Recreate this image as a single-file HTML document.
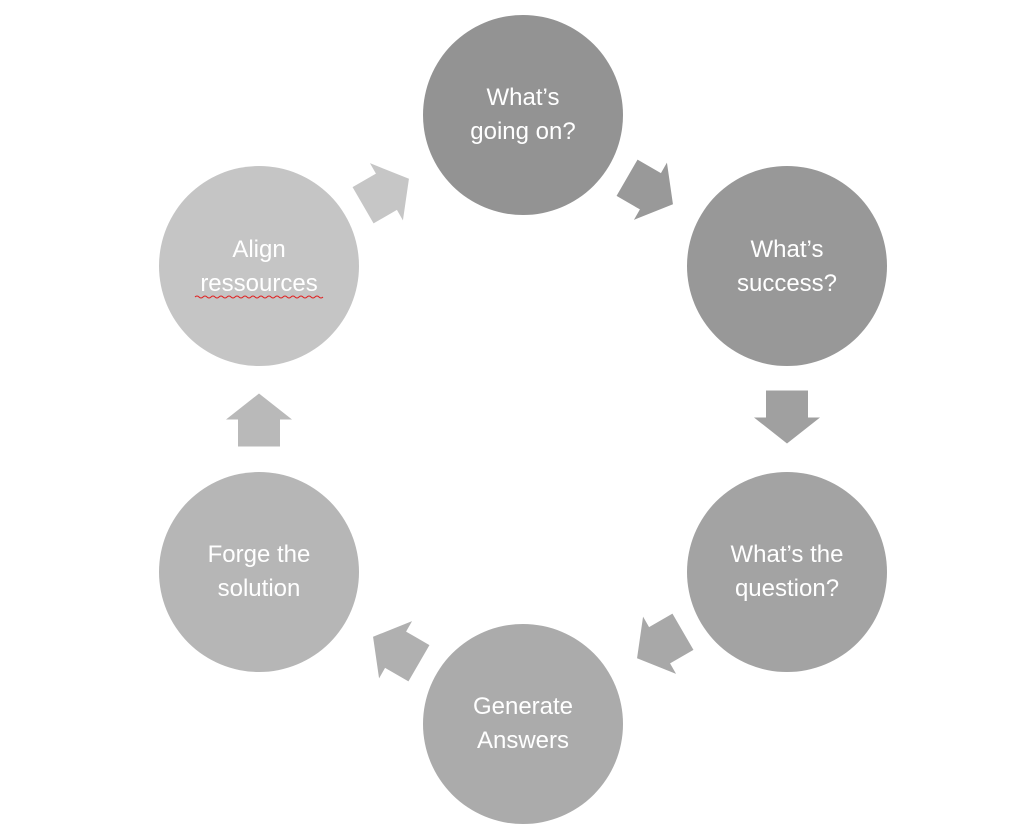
<!DOCTYPE html>
<html><head><meta charset="utf-8"><style>
html,body{margin:0;padding:0;background:#fff;}
svg{display:block}
text{font-family:"Liberation Sans",sans-serif;font-size:24px;fill:#fff;text-anchor:middle}
</style></head><body>
<svg width="1024" height="838" viewBox="0 0 1024 838" xmlns="http://www.w3.org/2000/svg">
<defs>
<polygon id="ar" points="-26.5,-21 0.5,-21 0.5,-33 26.5,0 0.5,33 0.5,21 -26.5,21"/>
</defs>
<circle cx="523" cy="115" r="100" fill="#939393"/>
<circle cx="787" cy="266" r="100" fill="#989898"/>
<circle cx="787" cy="572" r="100" fill="#a3a3a3"/>
<circle cx="523" cy="724" r="100" fill="#ababab"/>
<circle cx="259" cy="572" r="100" fill="#b6b6b6"/>
<circle cx="259" cy="266" r="100" fill="#c5c5c5"/>

<use href="#ar" fill="#999999" transform="translate(650,191) rotate(30)"/>
<use href="#ar" fill="#a0a0a0" transform="translate(787,417) rotate(90)"/>
<use href="#ar" fill="#a8a8a8" transform="translate(660,645) rotate(150)"/>
<use href="#ar" fill="#b0b0b0" transform="translate(396,650) rotate(210)"/>
<use href="#ar" fill="#b9b9b9" transform="translate(259,420) rotate(270)"/>
<use href="#ar" fill="#c6c6c6" transform="translate(386,192) rotate(330)"/>

<text x="523" y="105">What’s</text>
<text x="523" y="139">going on?</text>
<text x="787" y="257">What’s</text>
<text x="787" y="291">success?</text>
<text x="787" y="562">What’s the</text>
<text x="787" y="596">question?</text>
<text x="523" y="714">Generate</text>
<text x="523" y="748">Answers</text>
<text x="259" y="562">Forge the</text>
<text x="259" y="596">solution</text>
<text x="259" y="257">Align</text>
<text x="259" y="291">ressources</text>
<path d="M195 297 q2 -2 4 0 t4 0 t4 0 t4 0 t4 0 t4 0 t4 0 t4 0 t4 0 t4 0 t4 0 t4 0 t4 0 t4 0 t4 0 t4 0 t4 0 t4 0 t4 0 t4 0 t4 0 t4 0 t4 0 t4 0 t4 0 t4 0 t4 0 t4 0 t4 0 t4 0 t4 0 t4 0" fill="none" stroke="#e02020" stroke-width="1"/>
</svg>
</body></html>
